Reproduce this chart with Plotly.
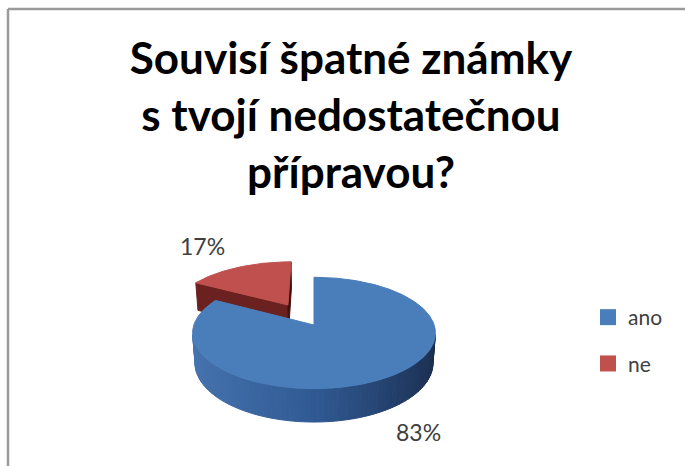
import numpy as np
import plotly.graph_objects as go

# --- data ---------------------------------------------------------------
categories = ["ano", "ne"]
values = [83, 17]
explode = [0.0, 0.45]          # radial pull-out of each slice (fraction of radius)
title_text = "Souvisí špatné známky<br>s tvojí nedostatečnou<br>přípravou?"

# --- styling --------------------------------------------------------------
top_colors = ["#4a7ebb", "#c0504d"]
wall_palettes = [
    [(70, 116, 175), (48, 90, 148), (26, 45, 78)],    # blue: left, front, right
    [(125, 40, 38), (100, 30, 28), (70, 18, 16)],     # red
]
FONT = "Lato"
W, H = 685, 466

# --- simple perspective camera for a tilted, extruded pie ----------------
CX, CY = 314.0, 325.0
FOCAL = 750.0
DIST = 6.24
TILT = np.radians(27)
THICK = 0.286
S, C = np.sin(TILT), np.cos(TILT)
CAM = np.array([0.0, -DIST * C, DIST * S])


def project(X, Y, Z):
    X, Y, Z = np.asarray(X, float), np.asarray(Y, float), np.asarray(Z, float)
    yv = Y * S + Z * C
    depth = DIST + Y * C - Z * S
    return CX + FOCAL * X / depth, CY - FOCAL * yv / depth


def wall_color(pal, ang_deg, k=1.0):
    t = (np.sin(np.radians(ang_deg)) + 1) / 2
    if t < 0.5:
        a, b, u = pal[0], pal[1], t / 0.5
    else:
        a, b, u = pal[1], pal[2], (t - 0.5) / 0.5
    rgb = [int(round((a[i] + (b[i] - a[i]) * u) * k)) for i in range(3)]
    return "rgb(%d,%d,%d)" % tuple(rgb)


def poly_trace(xs, ys, color):
    xs = list(xs) + [xs[0]]
    ys = list(ys) + [ys[0]]
    return go.Scatter(x=xs, y=ys, mode="lines", fill="toself",
                      fillcolor=color, line=dict(color=color, width=1),
                      hoverinfo="skip", showlegend=False)


def visible(normal, point):
    return float(np.dot(normal, CAM - point)) > 1e-6


total = float(sum(values))
slices = []
start = 0.0
for i, v in enumerate(values):
    span = 360.0 * v / total
    mid = start + span / 2
    m = np.radians(mid)
    slices.append(dict(i=i, a0=start, a1=start + span, mid=mid,
                       ox=explode[i] * np.sin(m), oy=explode[i] * np.cos(m)))
    start += span

fig = go.Figure()

# draw back slices first so nearer ones overlap them
order = sorted(slices, key=lambda s: -(np.cos(np.radians(s["mid"])) + s["oy"]))
for sl in order:
    i, a0, a1, ox, oy = sl["i"], sl["a0"], sl["a1"], sl["ox"], sl["oy"]
    pal = wall_palettes[i]

    # radial side faces
    for ang, sign in ((a0, -1), (a1, 1)):
        r = np.radians(ang)
        normal = sign * np.array([np.cos(r), -np.sin(r), 0.0])
        pt = np.array([ox + 0.5 * np.sin(r), oy + 0.5 * np.cos(r), 0.0])
        if visible(normal, pt):
            X = [ox, ox + np.sin(r), ox + np.sin(r), ox]
            Y = [oy, oy + np.cos(r), oy + np.cos(r), oy]
            Z = [0, 0, -THICK, -THICK]
            px, py = project(X, Y, Z)
            nang = ang + sign * 90
            fig.add_trace(poly_trace(px, py, wall_color(pal, nang, 0.95)))

    # outer rim, split into thin strips for shading
    edges = np.arange(a0, a1, 2.0).tolist() + [a1]
    for t0, t1 in zip(edges[:-1], edges[1:]):
        tm = np.radians((t0 + t1) / 2)
        normal = np.array([np.sin(tm), np.cos(tm), 0.0])
        pt = np.array([ox + np.sin(tm), oy + np.cos(tm), -THICK / 2])
        if not visible(normal, pt):
            continue
        r0, r1 = np.radians(t0), np.radians(t1)
        X = [ox + np.sin(r0), ox + np.sin(r1), ox + np.sin(r1), ox + np.sin(r0)]
        Y = [oy + np.cos(r0), oy + np.cos(r1), oy + np.cos(r1), oy + np.cos(r0)]
        Z = [0, 0, -THICK, -THICK]
        px, py = project(X, Y, Z)
        fig.add_trace(poly_trace(px, py, wall_color(pal, (t0 + t1) / 2)))

    # top face
    arc = np.radians(np.linspace(a0, a1, max(8, int((a1 - a0) * 2))))
    X = np.concatenate([[ox], ox + np.sin(arc)])
    Y = np.concatenate([[oy], oy + np.cos(arc)])
    px, py = project(X, Y, np.zeros_like(X))
    fig.add_trace(poly_trace(px, py, top_colors[i]))

# percentage labels just outside each slice
annotations = []
for sl in slices:
    m = np.radians(sl["mid"])
    front = np.cos(m) < 0
    lx, ly = project(sl["ox"] + np.sin(m), sl["oy"] + np.cos(m), -THICK if front else 0.0)
    d = np.array([np.sin(m), -np.cos(m) * 0.34])
    d = d / np.linalg.norm(d) * 42
    annotations.append(dict(x=float(lx), y=float(ly), xref="x", yref="y",
                            text="%d%%" % values[sl["i"]], showarrow=False,
                            xshift=float(d[0]), yshift=float(-d[1]),
                            font=dict(family=FONT, size=23, color="#404040")))

# legend entries
for i, name in enumerate(categories):
    fig.add_trace(go.Scatter(x=[None], y=[None], mode="markers", name=name,
                             legendgroup=name,
                             marker=dict(symbol="square", size=16, color=top_colors[i])))

fig.update_layout(
    width=W, height=H,
    margin=dict(l=0, r=0, t=0, b=0),
    paper_bgcolor="white", plot_bgcolor="white",
    title=dict(text=title_text, x=351 / W, xanchor="center",
               y=1 - 74 / H, yanchor="top", yref="container",
               font=dict(family=FONT, size=44, color="#000000", weight="bold")),
    xaxis=dict(range=[0, W], visible=False, fixedrange=True),
    yaxis=dict(range=[H, 0], visible=False, fixedrange=True),
    showlegend=True,
    legend=dict(x=588 / W, y=1 - 297 / H, xanchor="left", yanchor="top",
                font=dict(family=FONT, size=21, color="#404040"),
                tracegroupgap=16, bgcolor="rgba(0,0,0,0)"),
    annotations=annotations,
    shapes=[
        dict(type="line", xref="paper", yref="paper", x0=8 / W, x1=8 / W,
             y0=0, y1=1 - 9 / H, line=dict(color="#9a9a9a", width=2.5)),
        dict(type="line", xref="paper", yref="paper", x0=8 / W, x1=1,
             y0=1 - 9 / H, y1=1 - 9 / H, line=dict(color="#9a9a9a", width=2.5)),
    ],
)

fig.write_html("out.html")
